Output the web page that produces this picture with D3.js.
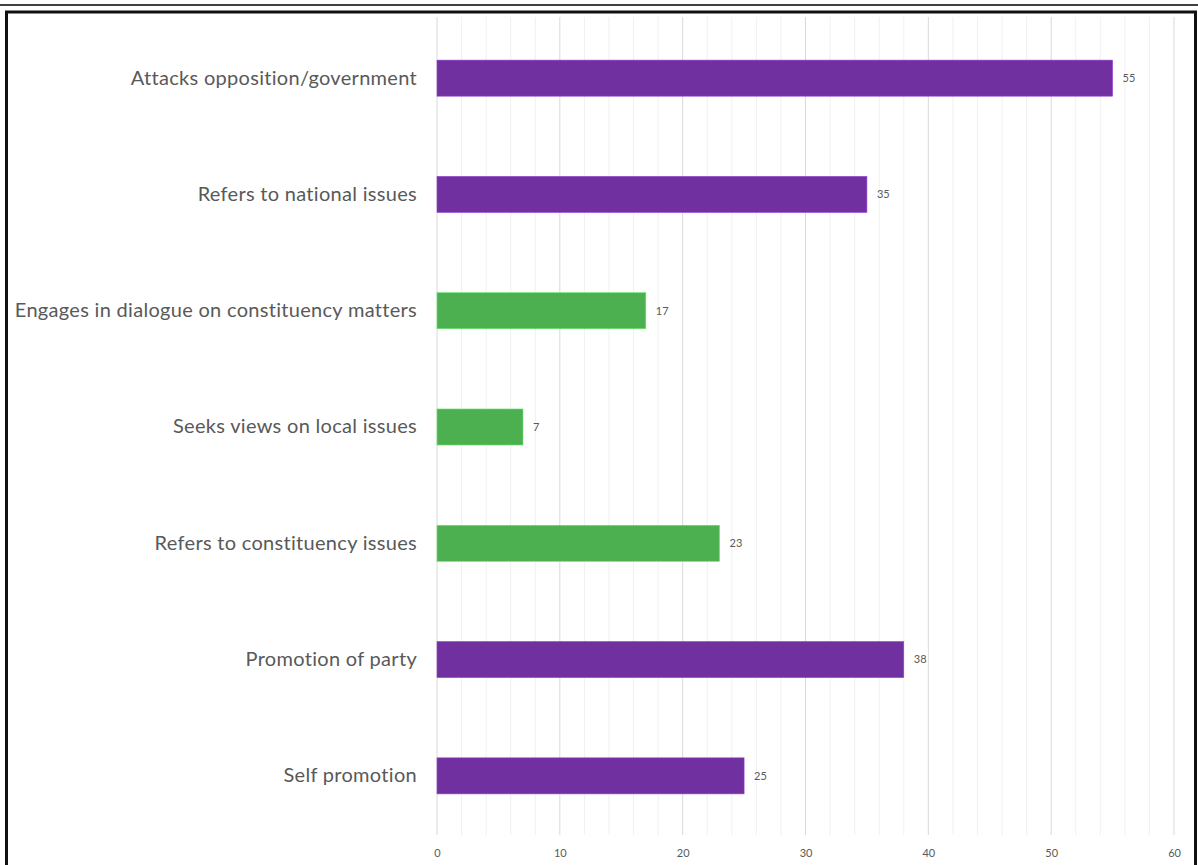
<!DOCTYPE html>
<html lang="en">

<head>
    <meta charset="UTF-8">
    <title>Bar chart</title>
    <script src="https://d3js.org/d3.v7.min.js"></script>
    <style>
        body { margin: 0; background: #fff; }
        text { font-family: Lato, "Liberation Sans", sans-serif; fill: #595959; }
    </style>
</head>

<body>
    <svg width="1198" height="865"></svg>

    <script>
        const width = 1198;
        const height = 865;

        // data
        const categories = [
            "Attacks opposition/government",
            "Refers to national issues",
            "Engages in dialogue on constituency matters",
            "Seeks views on local issues",
            "Refers to constituency issues",
            "Promotion of party",
            "Self promotion"
        ];
        const values = [55, 35, 17, 7, 23, 38, 25];
        const groups = ["party", "party", "local", "local", "local", "party", "party"];
        const xTicks = [0, 10, 20, 30, 40, 50, 60];

        const colors = { party: "#7030a0", local: "#4caf50" };

        const svg = d3.select("svg");

        // outer frame
        svg.append("line")
            .attr("x1", 0).attr("x2", width)
            .attr("y1", 5).attr("y2", 5)
            .attr("stroke", "#000").attr("stroke-width", 1.5);
        svg.append("rect")
            .attr("x", 6.5).attr("y", 12)
            .attr("width", 1189).attr("height", 870)
            .attr("fill", "none")
            .attr("stroke", "#111").attr("stroke-width", 3);

        const x = d3.scaleLinear().domain([0, 60]).range([437, 1174]);
        const y = d3.scaleBand().domain(categories).range([20, 834]).paddingInner(0.69).paddingOuter(0.345);

        // gridlines every 2 units
        const grid = d3.range(0, 61, 2);
        svg.append("g").selectAll("line")
            .data(grid)
            .enter()
            .append("line")
            .attr("x1", d => x(d)).attr("x2", d => x(d))
            .attr("y1", 17).attr("y2", 835)
            .attr("stroke", d => d % 10 === 0 ? "#d9d9d9" : "#f0f0f0")
            .attr("stroke-width", 1);

        // bars
        svg.append("g").selectAll("rect")
            .data(categories)
            .enter()
            .append("rect")
            .attr("x", x(0))
            .attr("y", d => y(d))
            .attr("width", (d, i) => x(values[i]) - x(0))
            .attr("height", y.bandwidth())
            .attr("fill", (d, i) => colors[groups[i]])
            .attr("stroke", (d, i) => d3.color(colors[groups[i]]).brighter(0.8))
            .attr("stroke-width", 0.6);

        // value labels
        svg.append("g").selectAll("text")
            .data(categories)
            .enter()
            .append("text")
            .attr("x", (d, i) => x(values[i]) + 10)
            .attr("y", d => y(d) + y.bandwidth() / 2)
            .attr("dy", "0.35em")
            .style("font-size", "11px")
            .text((d, i) => values[i]);

        // category labels
        const yAxis = d3.axisLeft(y).tickSize(0).tickPadding(20);
        const gy = svg.append("g").attr("transform", `translate(${x(0)},0)`).call(yAxis);
        gy.select(".domain").remove();
        gy.selectAll("text")
            .style("font-size", "20px")
            .style("letter-spacing", "0.3px")
            .attr("fill", "#595959");

        // x axis labels
        const xAxis = d3.axisBottom(x).tickValues(xTicks).tickSize(0).tickPadding(14);
        const gx = svg.append("g").attr("transform", "translate(0,835)").call(xAxis);
        gx.select(".domain").remove();
        gx.selectAll("text").style("font-size", "11px").attr("fill", "#595959");
    </script>
</body>

</html>
